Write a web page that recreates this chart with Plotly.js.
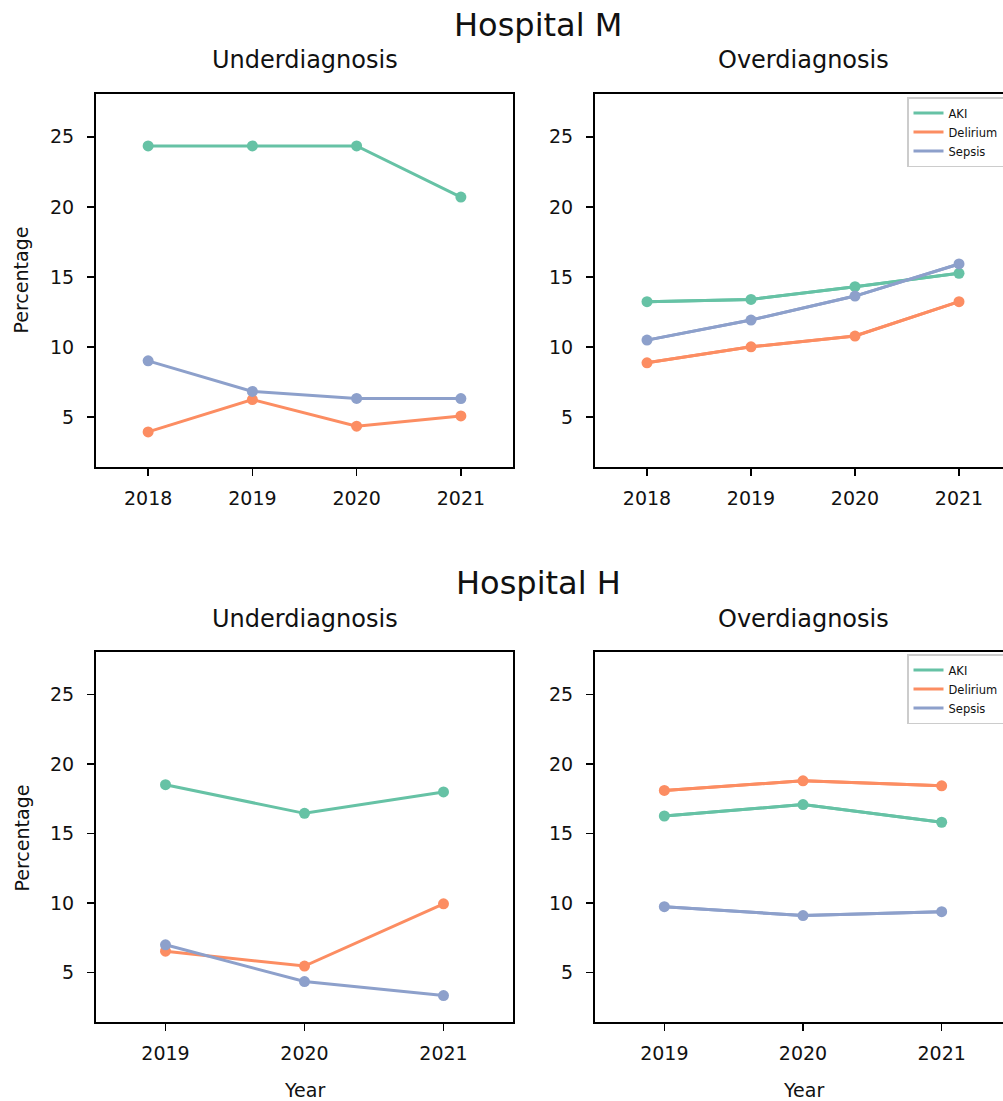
<!DOCTYPE html>
<html>
<head>
<meta charset="utf-8">
<script src="https://cdn.plot.ly/plotly-3.0.1.min.js"></script>
<style>
  html, body { margin: 0; padding: 0; background: #ffffff; overflow: hidden; }
  #chart { width: 1015px; height: 1101px; }
</style>
</head>
<body>
<div id="chart"></div>
<script>
// ---------------- data ----------------
const seriesNames = ["AKI", "Delirium", "Sepsis"];
const seriesColors = ["#66c2a5", "#fc8d62", "#8da0cb"];

const yearsM = [2018, 2019, 2020, 2021];
const yearsH = [2019, 2020, 2021];

// Hospital M
const mUnderAKI      = [24.35, 24.35, 24.35, 20.70];
const mUnderDelirium = [3.95, 6.26, 4.36, 5.09];
const mUnderSepsis   = [9.02, 6.84, 6.34, 6.33];

const mOverAKI       = [13.24, 13.40, 14.31, 15.26];
const mOverDelirium  = [8.88, 10.02, 10.79, 13.24];
const mOverSepsis    = [10.50, 11.93, 13.64, 15.93];

// Hospital H
const hUnderAKI      = [18.51, 16.45, 17.99];
const hUnderDelirium = [6.54, 5.47, 9.95];
const hUnderSepsis   = [7.00, 4.36, 3.35];

const hOverAKI       = [16.26, 17.08, 15.81];
const hOverDelirium  = [18.10, 18.79, 18.43];
const hOverSepsis    = [9.74, 9.10, 9.38];

const yTickVals = [5, 10, 15, 20, 25];
const panelTitles = ["Underdiagnosis", "Overdiagnosis"];
const hospitalTitles = ["Hospital M", "Hospital H"];
const yLabel = "Percentage";
const xLabel = "Year";

// ---------------- geometry ----------------
const W = 1015, H = 1101;
const FONT = "DejaVu Sans, Liberation Sans, sans-serif";
const px = v => v / W;
const py = v => 1 - v / H;

const colL = [96, 513], colR = [595, 1011];
const rowT = [94, 467], rowB = [652, 1022];

const panels = [
  { ax: "", years: yearsM, data: [mUnderAKI, mUnderDelirium, mUnderSepsis], col: colL, row: rowT, legend: null },
  { ax: "2", years: yearsM, data: [mOverAKI, mOverDelirium, mOverSepsis], col: colR, row: rowT, legend: "legend" },
  { ax: "3", years: yearsH, data: [hUnderAKI, hUnderDelirium, hUnderSepsis], col: colL, row: rowB, legend: null },
  { ax: "4", years: yearsH, data: [hOverAKI, hOverDelirium, hOverSepsis], col: colR, row: rowB, legend: "legend2" }
];

const traces = [];
const layout = {
  width: W, height: H, autosize: false,
  margin: { l: 0, r: 0, t: 0, b: 0, pad: 0 },
  paper_bgcolor: "#ffffff", plot_bgcolor: "#ffffff",
  font: { family: FONT, color: "#111111", size: 19 },
  showlegend: true,
  annotations: []
};

panels.forEach((p, i) => {
  const xa = "x" + p.ax, ya = "y" + p.ax;
  seriesNames.forEach((name, s) => {
    if (p.legend) {
      traces.push({
        type: "scatter", mode: "lines", name: name,
        x: p.years, y: p.data[s], xaxis: xa, yaxis: ya,
        line: { color: seriesColors[s], width: 3 },
        legend: p.legend, showlegend: true, hoverinfo: "skip"
      });
    }
    traces.push({
      type: "scatter", mode: "lines+markers", name: name,
      x: p.years, y: p.data[s], xaxis: xa, yaxis: ya,
      line: { color: seriesColors[s], width: 3 },
      marker: { color: seriesColors[s], size: 11 },
      showlegend: false
    });
  });
  const xmin = p.years[0] - 0.5, xmax = p.years[p.years.length - 1] + 0.5;
  layout["xaxis" + p.ax] = {
    domain: [px(p.col[0]), px(p.col[1])], anchor: ya,
    range: [xmin, xmax], tickvals: p.years, ticktext: p.years.map(String),
    showgrid: false, zeroline: false,
    showline: true, mirror: true, linecolor: "#000000", linewidth: 2,
    ticks: "outside", ticklen: 7, tickwidth: 1.6, tickcolor: "#000000",
    tickfont: { family: FONT, size: 19, color: "#111111" },
    ticklabelstandoff: 6, fixedrange: true
  };
  layout["yaxis" + p.ax] = {
    domain: [py(p.row[1]), py(p.row[0])], anchor: xa,
    range: [1.45, 28.05], tickvals: yTickVals,
    showgrid: false, zeroline: false,
    showline: true, mirror: true, linecolor: "#000000", linewidth: 2,
    ticks: "outside", ticklen: 7, tickwidth: 1.6, tickcolor: "#000000",
    tickfont: { family: FONT, size: 19, color: "#111111" },
    ticklabelstandoff: 9, fixedrange: true
  };
  // panel title
  const rowOff = p.row[0] - 94;
  layout.annotations.push({
    xref: "paper", yref: "paper", x: px((p.col[0] + p.col[1]) / 2), y: py(60.5 + rowOff),
    xanchor: "center", yanchor: "middle", showarrow: false,
    text: panelTitles[i % 2], font: { family: FONT, size: 24, color: "#111111" }
  });
});

// hospital titles
hospitalTitles.forEach((t, r) => {
  layout.annotations.push({
    xref: "paper", yref: "paper", x: px(538), y: py(24.5 + r * 558),
    xanchor: "center", yanchor: "middle", showarrow: false,
    text: t, font: { family: FONT, size: 32, color: "#111111" }
  });
  layout.annotations.push({
    xref: "paper", yref: "paper", x: px(21), y: py((94 + 467) / 2 + r * 558),
    xanchor: "center", yanchor: "middle", showarrow: false, textangle: -90,
    text: yLabel, font: { family: FONT, size: 19, color: "#111111" }
  });
});
[colL, colR].forEach(c => {
  layout.annotations.push({
    xref: "paper", yref: "paper", x: px((c[0] + c[1]) / 2), y: py(1090),
    xanchor: "center", yanchor: "middle", showarrow: false,
    text: xLabel, font: { family: FONT, size: 19, color: "#111111" }
  });
});

const legendCommon = {
  xanchor: "left", yanchor: "top",
  bgcolor: "rgba(255,255,255,0.8)", bordercolor: "#cccccc", borderwidth: 1.5,
  font: { family: FONT, size: 11.5, color: "#111111" },
  tracegroupgap: 0, itemwidth: 30
};
layout.legend = Object.assign({ x: px(907), y: py(97) }, legendCommon);
layout.legend2 = Object.assign({ x: px(907), y: py(654) }, legendCommon);

Plotly.newPlot("chart", traces, layout, { displayModeBar: false, staticPlot: true });
</script>
</body>
</html>
